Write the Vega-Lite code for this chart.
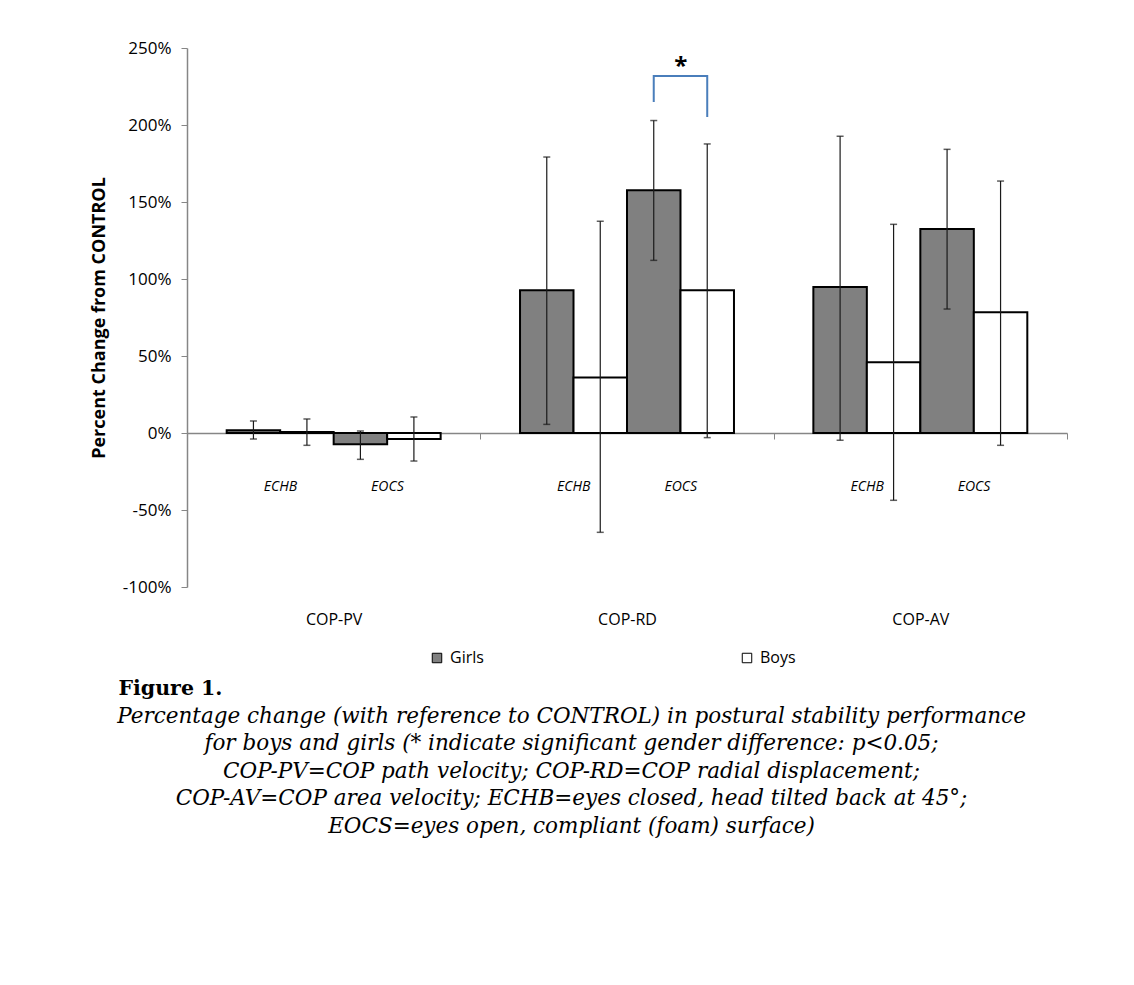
{
  "$schema": "https://vega.github.io/schema/vega-lite/v6.json",
  "width": 880,
  "height": 539,
  "autosize": {"type": "none"},
  "padding": {"left": 187, "top": 48, "right": 67, "bottom": 398},
  "background": "white",
  "config": {
    "view": {"stroke": null},
    "font": "Open Sans",
    "axis": {"grid": false, "labelFont": "Open Sans", "titleFont": "Open Sans", "labelColor": "black", "titleColor": "black"},
    "legend": {"labelFont": "Open Sans"}
  },
  "datasets": {
    "bars": [
      {"measure": "COP-PV", "cond": "ECHB", "gender": "Girls", "key": "ECHB Girls", "mean": 1.8, "lo": -3.9, "hi": 7.8},
      {"measure": "COP-PV", "cond": "ECHB", "gender": "Boys", "key": "ECHB Boys", "mean": 0.7, "lo": -8.0, "hi": 9.1},
      {"measure": "COP-PV", "cond": "EOCS", "gender": "Girls", "key": "EOCS Girls", "mean": -7.3, "lo": -17.1, "hi": 1.3},
      {"measure": "COP-PV", "cond": "EOCS", "gender": "Boys", "key": "EOCS Boys", "mean": -3.9, "lo": -18.2, "hi": 10.4},
      {"measure": "COP-RD", "cond": "ECHB", "gender": "Girls", "key": "ECHB Girls", "mean": 92.7, "lo": 5.6, "hi": 179.2},
      {"measure": "COP-RD", "cond": "ECHB", "gender": "Boys", "key": "ECHB Boys", "mean": 36.0, "lo": -64.5, "hi": 137.5},
      {"measure": "COP-RD", "cond": "EOCS", "gender": "Girls", "key": "EOCS Girls", "mean": 157.6, "lo": 112.1, "hi": 202.9},
      {"measure": "COP-RD", "cond": "EOCS", "gender": "Boys", "key": "EOCS Boys", "mean": 92.7, "lo": -3.0, "hi": 187.7},
      {"measure": "COP-AV", "cond": "ECHB", "gender": "Girls", "key": "ECHB Girls", "mean": 94.8, "lo": -4.7, "hi": 192.7},
      {"measure": "COP-AV", "cond": "ECHB", "gender": "Boys", "key": "ECHB Boys", "mean": 45.9, "lo": -43.7, "hi": 135.5},
      {"measure": "COP-AV", "cond": "EOCS", "gender": "Girls", "key": "EOCS Girls", "mean": 132.5, "lo": 80.5, "hi": 184.2},
      {"measure": "COP-AV", "cond": "EOCS", "gender": "Boys", "key": "EOCS Boys", "mean": 78.4, "lo": -8.0, "hi": 163.6}
    ],
    "sub": [
      {"measure": "COP-PV", "cond": "ECHB", "key": "ECHB Girls", "v": -35},
      {"measure": "COP-PV", "cond": "EOCS", "key": "EOCS Girls", "v": -35},
      {"measure": "COP-RD", "cond": "ECHB", "key": "ECHB Girls", "v": -35},
      {"measure": "COP-RD", "cond": "EOCS", "key": "EOCS Girls", "v": -35},
      {"measure": "COP-AV", "cond": "ECHB", "key": "ECHB Girls", "v": -35},
      {"measure": "COP-AV", "cond": "EOCS", "key": "EOCS Girls", "v": -35}
    ],
    "bracket": [
      {"measure": "COP-RD", "key": "EOCS Girls", "v": 214.9, "o": 1},
      {"measure": "COP-RD", "key": "EOCS Girls", "v": 231.8, "o": 2},
      {"measure": "COP-RD", "key": "EOCS Boys", "v": 231.8, "o": 3},
      {"measure": "COP-RD", "key": "EOCS Boys", "v": 205.2, "o": 4}
    ],
    "star": [
      {"measure": "COP-RD", "key": "EOCS Girls", "v": 233, "label": "*"}
    ]
  },
  "layer": [
    {
      "data": {"name": "bars"},
      "mark": {"type": "bar", "stroke": "black", "strokeWidth": 2},
      "encoding": {
        "x": {
          "field": "measure", "type": "nominal", "sort": ["COP-PV", "COP-RD", "COP-AV"],
          "scale": {"paddingInner": 0, "paddingOuter": 0},
          "axis": {
            "orient": "bottom", "offset": -154,
            "domainColor": "#868686", "domainWidth": 1.5,
            "ticks": true, "tickColor": "#868686", "tickSize": 6, "tickBand": "extent",
            "labelAngle": 0, "labelFontSize": 16, "labelPadding": 172, "labelBaseline": "top",
            "title": [
              "Percentage change (with reference to CONTROL) in postural stability performance",
              "for boys and girls (* indicate significant gender difference: p<0.05;",
              "COP-PV=COP path velocity; COP-RD=COP radial displacement;",
              "COP-AV=COP area velocity; ECHB=eyes closed, head tilted back at 45°;",
              "EOCS=eyes open, compliant (foam) surface)"
            ],
            "titleFont": "DejaVu Serif", "titleFontStyle": "italic", "titleFontWeight": "normal",
            "titleFontSize": 21.5, "titleLineHeight": 27.5,
            "titleX": 384, "titleY": 272, "titleAlign": "center", "titleBaseline": "top"
          }
        },
        "xOffset": {
          "field": "key", "type": "nominal", "sort": ["ECHB Girls", "ECHB Boys", "EOCS Girls", "EOCS Boys"],
          "scale": {"paddingInner": 0, "paddingOuter": 0.742}
        },
        "y": {
          "field": "mean", "type": "quantitative", "stack": null,
          "scale": {"domain": [-100, 250], "nice": false},
          "axis": {
            "values": [-100, -50, 0, 50, 100, 150, 200, 250],
            "labelExpr": "datum.value + '%'",
            "title": "Percent Change from CONTROL",
            "titleFontSize": 18, "titleFontWeight": "bold", "titlePadding": 14,
            "domainColor": "#868686", "domainWidth": 1.5, "tickColor": "#868686", "tickSize": 6,
            "labelFontSize": 17, "labelPadding": 10
          }
        },
        "y2": {"datum": 0},
        "fill": {
          "field": "gender", "type": "nominal",
          "scale": {"domain": ["Girls", "Boys"], "range": ["#808080", "#ffffff"]},
          "legend": {
            "orient": "none", "legendX": 242, "legendY": 602,
            "direction": "horizontal", "columns": 2, "columnPadding": 255,
            "title": null, "symbolType": "square", "symbolSize": 90,
            "symbolStrokeColor": "black", "symbolStrokeWidth": 1,
            "labelFontSize": 16, "labelColor": "black", "labelOffset": 5
          }
        }
      }
    },
    {
      "data": {"name": "bars"},
      "mark": {"type": "rule", "color": "#1a1a1a", "strokeWidth": 1.2},
      "encoding": {
        "x": {
          "field": "measure", "type": "nominal", "sort": ["COP-PV", "COP-RD", "COP-AV"],
          "axis": {
            "orient": "bottom", "domain": false, "ticks": false, "labels": false,
            "title": "Figure 1.", "titleFont": "DejaVu Serif", "titleFontWeight": "bold",
            "titleFontSize": 20.5, "titleX": -69, "titleY": 101, "titleAlign": "left", "titleBaseline": "middle"
          }
        },
        "xOffset": {"field": "key", "type": "nominal", "sort": ["ECHB Girls", "ECHB Boys", "EOCS Girls", "EOCS Boys"]},
        "y": {"field": "lo", "type": "quantitative"},
        "y2": {"field": "hi"}
      }
    },
    {
      "data": {"name": "bars"},
      "mark": {"type": "tick", "orient": "horizontal", "size": 7, "thickness": 1.5, "color": "#1a1a1a"},
      "encoding": {
        "x": {"field": "measure", "type": "nominal", "sort": ["COP-PV", "COP-RD", "COP-AV"], "axis": null},
        "xOffset": {"field": "key", "type": "nominal", "sort": ["ECHB Girls", "ECHB Boys", "EOCS Girls", "EOCS Boys"]},
        "y": {"field": "lo", "type": "quantitative"}
      }
    },
    {
      "data": {"name": "bars"},
      "mark": {"type": "tick", "orient": "horizontal", "size": 7, "thickness": 1.5, "color": "#1a1a1a"},
      "encoding": {
        "x": {"field": "measure", "type": "nominal", "sort": ["COP-PV", "COP-RD", "COP-AV"], "axis": null},
        "xOffset": {"field": "key", "type": "nominal", "sort": ["ECHB Girls", "ECHB Boys", "EOCS Girls", "EOCS Boys"]},
        "y": {"field": "hi", "type": "quantitative"}
      }
    },
    {
      "data": {"name": "sub"},
      "mark": {"type": "text", "fontStyle": "italic", "fontSize": 14, "baseline": "middle", "align": "center", "dx": 27, "color": "black"},
      "encoding": {
        "x": {"field": "measure", "type": "nominal", "sort": ["COP-PV", "COP-RD", "COP-AV"], "axis": null},
        "xOffset": {"field": "key", "type": "nominal", "sort": ["ECHB Girls", "ECHB Boys", "EOCS Girls", "EOCS Boys"]},
        "y": {"field": "v", "type": "quantitative"},
        "text": {"field": "cond"}
      }
    },
    {
      "data": {"name": "bracket"},
      "mark": {"type": "line", "color": "#4a7ebb", "strokeWidth": 2},
      "encoding": {
        "x": {"field": "measure", "type": "nominal", "sort": ["COP-PV", "COP-RD", "COP-AV"], "axis": null},
        "xOffset": {"field": "key", "type": "nominal", "sort": ["ECHB Girls", "ECHB Boys", "EOCS Girls", "EOCS Boys"]},
        "y": {"field": "v", "type": "quantitative"},
        "order": {"field": "o", "type": "quantitative"}
      }
    },
    {
      "data": {"name": "star"},
      "mark": {"type": "text", "fontSize": 24, "fontWeight": "bold", "baseline": "alphabetic", "align": "center", "dx": 27, "color": "black"},
      "encoding": {
        "x": {"field": "measure", "type": "nominal", "sort": ["COP-PV", "COP-RD", "COP-AV"], "axis": null},
        "xOffset": {"field": "key", "type": "nominal", "sort": ["ECHB Girls", "ECHB Boys", "EOCS Girls", "EOCS Boys"]},
        "y": {"field": "v", "type": "quantitative"},
        "text": {"field": "label"}
      }
    }
  ],
  "resolve": {"axis": {"x": "independent"}}
}
